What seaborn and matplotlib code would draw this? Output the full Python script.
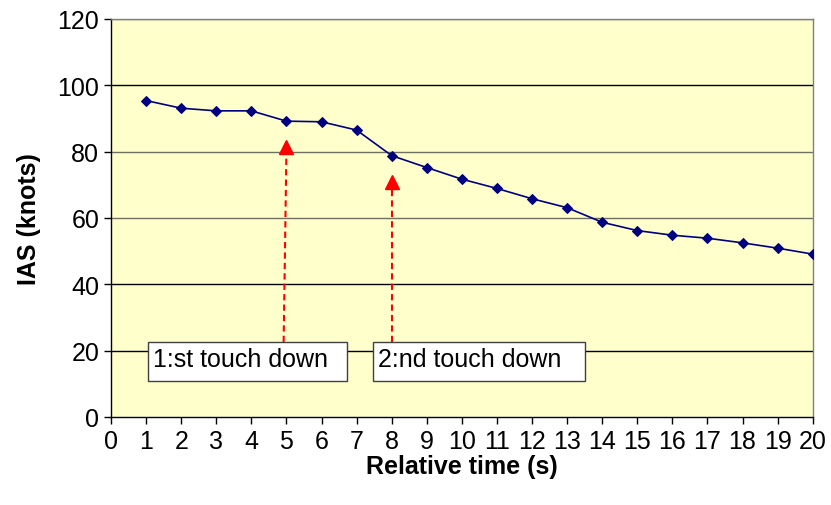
import numpy as np
import pandas as pd
import matplotlib
matplotlib.use("Agg")
import matplotlib.pyplot as plt
import seaborn as sns
from matplotlib.patches import Rectangle

# IAS readings per second of the landing roll
time_s = list(range(1, 21))
ias_knots = [95.4, 93.1, 92.3, 92.3, 89.2, 89.0, 86.5, 78.8, 75.2, 71.7,
             68.9, 65.8, 63.1, 58.7, 56.2, 54.8, 53.9, 52.5, 50.9, 49.1]

labels = ["1:st touch down", "2:nd touch down"]
touch_times = [5, 8]
touch_tips = [83, 72.4]

df = pd.DataFrame({"t": time_s, "ias": ias_knots})

sns.set_style("white")
plt.rcParams['font.family'] = ['Liberation Sans', 'DejaVu Sans']
plt.rcParams['text.color'] = 'black'
plt.rcParams['axes.labelcolor'] = 'black'

fig, ax = plt.subplots(figsize=(8.31, 5.06), dpi=100)
fig.subplots_adjust(left=0.1336, right=0.978, top=0.9605, bottom=0.174)
ax.set_facecolor("#FFFFCC")

# horizontal grid lines
for yv in range(20, 121, 20):
    ax.axhline(yv, color="#000000" if yv in (20, 40, 100) else "#707060", lw=1.0, zorder=1)

sns.lineplot(data=df, x="t", y="ias", ax=ax, color="#000080", lw=1.2,
             marker="D", markersize=5, markeredgecolor="#000080", zorder=3)

# touchdown arrows and text boxes
boxes = [(1.05, 6.72), (7.46, 13.5)]
for (x0, x1), lab, tx, tip in zip(boxes, labels, touch_times, touch_tips):
    ax.add_patch(Rectangle((x0, 10.9), x1 - x0, 11.7, facecolor="white",
                           edgecolor="#404040", lw=1.0, zorder=4))
    ax.text(x0 + 0.15, 17.4, lab, fontsize=18, va="center", ha="left",
            color="black", zorder=5)
    ax.plot([tx - (0.08 if tx == 5 else 0), tx], [22.6, tip - 2.5], color="red",
            ls=(0, (3, 2)), lw=1.5, zorder=4)
    ax.plot([tx], [tip - 1.5], marker="^", color="red", markersize=10, zorder=4)

ax.set_xlim(0, 20)
ax.set_ylim(0, 120)
ax.set_xticks(range(0, 21))
ax.set_yticks(range(0, 121, 20))
ax.tick_params(axis="both", labelsize=18, length=5, width=1, direction="out",
               bottom=True, left=True, color="black", labelcolor="black")
ax.set_xlabel("Relative time (s)", fontsize=18, fontweight="bold", labelpad=1)
ax.set_ylabel("IAS (knots)", fontsize=18, fontweight="bold", labelpad=12)

for s in ["left", "bottom"]:
    ax.spines[s].set_color("black")
    ax.spines[s].set_linewidth(1.0)
for s in ["top", "right"]:
    ax.spines[s].set_color("#808080")
    ax.spines[s].set_linewidth(1.0)

fig.savefig("out.png", dpi=100)
